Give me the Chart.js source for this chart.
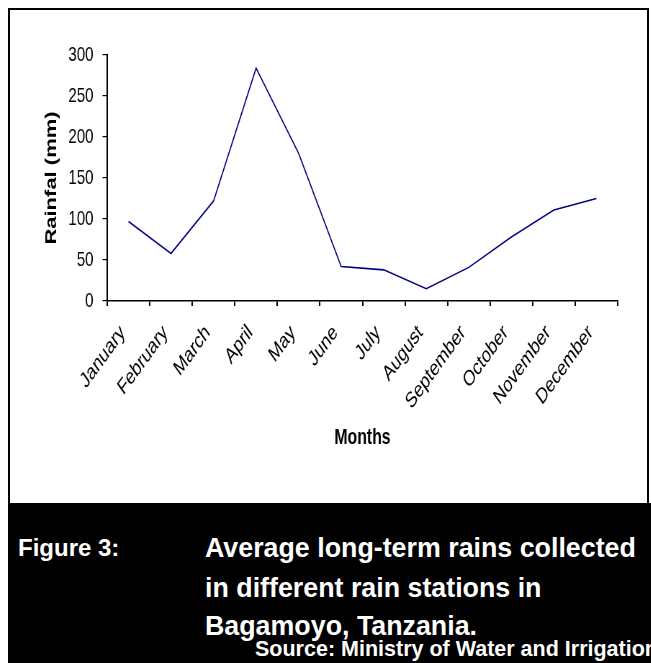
<!DOCTYPE html>
<html>
<head>
<meta charset="utf-8">
<script src="https://cdn.jsdelivr.net/npm/chart.js@4"></script>
<style>
  html, body { margin: 0; padding: 0; background: #fff; }
  #page { position: relative; width: 651px; height: 663px; overflow: hidden; font-family: "Liberation Sans", Arial, sans-serif; }
  #frame { position: absolute; left: 8px; top: 8px; width: 637px; height: 660px; border: 2px solid #000; }
  #squeeze { position: absolute; left: 10px; top: 10px; width: 875px; height: 493px; transform: scaleX(0.72); transform-origin: 0 0; }
  #caption { position: absolute; left: 10px; top: 503px; width: 641px; height: 160px; background: #000; color: #fff; font-weight: bold; overflow: hidden; white-space: nowrap; }
  .cap { position: absolute; font-size: 26.8px; line-height: 30px; }
  #source { position: absolute; left: 245px; top: 135px; font-size: 21.5px; line-height: 22px; }
</style>
</head>
<body>
<div id="page">
  <div id="frame"></div>
  <div id="squeeze"><canvas id="rain_chart_canvas"></canvas></div>
  <div id="caption">
    <div class="cap" style="left:8px; top:30px; font-size:24px;">Figure 3:</div>
    <div class="cap" style="left:195px; top:30px;">Average long-term rains collected</div>
    <div class="cap" style="left:195px; top:70px;">in different rain stations in</div>
    <div class="cap" style="left:195px; top:108px;">Bagamoyo, Tanzania.</div>
    <div id="source">Source: Ministry of Water and Irrigation</div>
  </div>
</div>
<script>
var months = ["January","February","March","April","May","June","July","August","September","October","November","December"];
var rainfall = [97, 58, 122, 284, 180, 42, 38, 15, 41, 78, 111, 125];
var yTicks = [0, 50, 100, 150, 200, 250, 300];

const context = document.getElementById("rain_chart_canvas").getContext("2d");

const chart = new Chart(context, {
  type: "line",
  data: {
    labels: months,
    datasets: [{
      label:        "Rainfall",
      data:         rainfall,
      borderColor:  "#000080",
      borderWidth:  1.6,
      pointRadius:  0,
      tension:      0,
      fill:         false
    }]
  },
  options: {
    responsive: true,
    maintainAspectRatio: false,
    animation: false,
    layout: { padding: { top: 45, right: 31, left: 0, bottom: 0 } },
    plugins: { legend: { display: false }, tooltip: { enabled: false } },
    scales: {
      x: {
        offset: true,
        grid: { offset: true, drawOnChartArea: false, tickLength: 5, color: "#000", lineWidth: 2 },
        border: { color: "#000", width: 1.5 },
        ticks: {
          autoSkip: false, minRotation: 45, maxRotation: 45, padding: 14, labelOffset: -8,
          color: "#000", font: { family: "Liberation Sans", size: 22 }
        },
        title: {
          display: true, text: "Months", color: "#000",
          font: { family: "Liberation Sans", size: 22, weight: "bold" },
          padding: { top: 0, bottom: 52 }
        },
        afterFit: function (axis) { axis.height = 202; }
      },
      y: {
        min: 0, max: 300,
        grid: { drawOnChartArea: false, tickLength: 6.5, color: "#000", lineWidth: 1.2 },
        border: { color: "#000", width: 2 },
        afterBuildTicks: function (axis) { axis.ticks = yTicks.map(function (v) { return { value: v }; }); },
        ticks: {
          padding: 12.5, color: "#000",
          font: { family: "Liberation Sans", size: 21 }
        },
        title: {
          display: true, text: "Rainfal (mm)", color: "#000",
          font: { family: "Liberation Sans", size: 22, weight: "bold" },
          padding: { top: 45, bottom: 0 }
        },
        afterFit: function (axis) { axis.width = 135; }
      }
    }
  }
});
</script>
</body>
</html>
